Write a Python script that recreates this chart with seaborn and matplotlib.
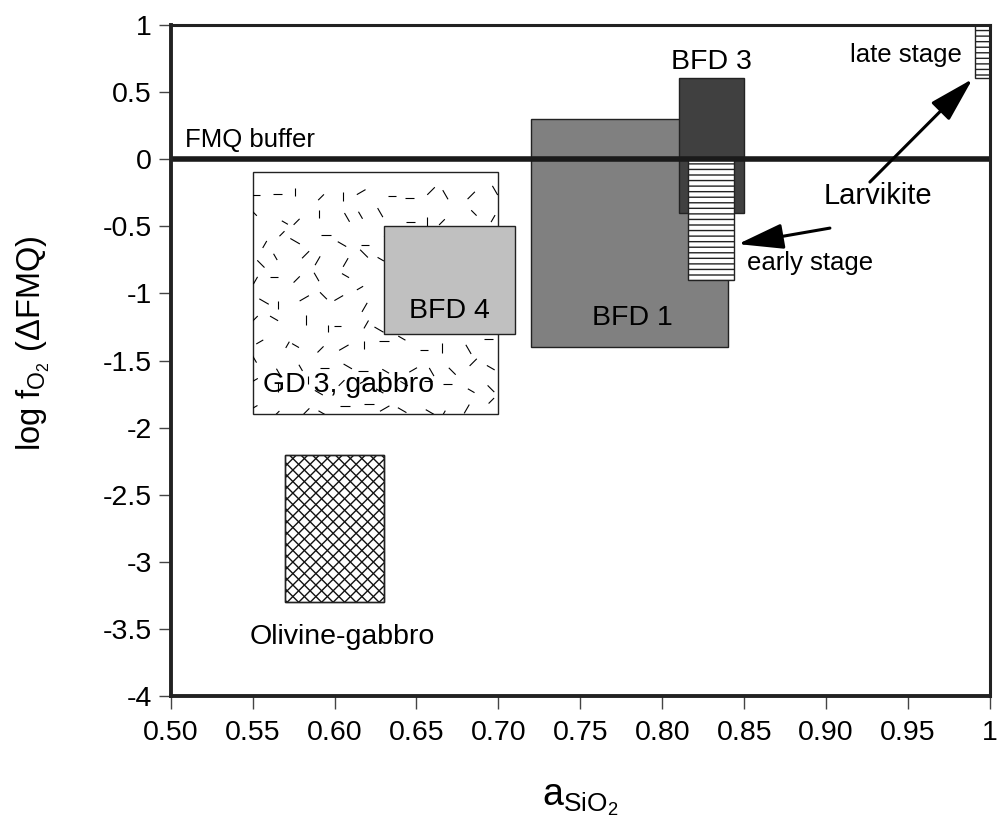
import numpy as np
import pandas as pd
import matplotlib
matplotlib.use("Agg")
import matplotlib.pyplot as plt
from matplotlib.patches import Rectangle
from matplotlib.collections import LineCollection
from matplotlib.transforms import IdentityTransform
import seaborn as sns

# Fields in (aSiO2, log fO2 relative to FMQ) space: x0, x1, y0, y1
field_names = ["GD 3, gabbro", "Olivine-gabbro", "BFD 4", "BFD 1", "BFD 3",
               "Larvikite early stage", "Larvikite late stage"]
x_min = [0.55, 0.57, 0.63, 0.72, 0.81, 0.816, 0.991]
x_max = [0.70, 0.63, 0.71, 0.84, 0.85, 0.844, 1.00]
y_min = [-1.9, -3.3, -1.3, -1.4, -0.4, -0.9, 0.6]
y_max = [-0.1, -2.2, -0.5, 0.3, 0.6, 0.0, 1.0]

x_ticks = [0.50, 0.55, 0.60, 0.65, 0.70, 0.75, 0.80, 0.85, 0.90, 0.95, 1.00]
x_tick_labels = ["0.50", "0.55", "0.60", "0.65", "0.70", "0.75", "0.80",
                 "0.85", "0.90", "0.95", "1"]
y_ticks = [1, 0.5, 0, -0.5, -1, -1.5, -2, -2.5, -3, -3.5, -4]
y_tick_labels = ["1", "0.5", "0", "-0.5", "-1", "-1.5", "-2", "-2.5", "-3",
                 "-3.5", "-4"]

fmq = pd.DataFrame({"aSiO2": [0.50, 1.00], "dFMQ": [0.0, 0.0]})

sns.set_style("ticks")
plt.rcParams["font.family"] = ["Liberation Sans", "DejaVu Sans"]
plt.rcParams["mathtext.fontset"] = "custom"
plt.rcParams["mathtext.rm"] = "Liberation Sans"
plt.rcParams["mathtext.it"] = "Liberation Sans"
plt.rcParams["text.color"] = "black"
plt.rcParams["axes.labelcolor"] = "black"

DPI = 100
fig = plt.figure(figsize=(9.98, 8.25), dpi=DPI)
ax = fig.add_axes([0.171, 0.156, 0.821, 0.814])
ax.set_xlim(0.5, 1.0)
ax.set_ylim(-4, 1)


def rect(i, **kw):
    r = Rectangle((x_min[i], y_min[i]), x_max[i] - x_min[i], y_max[i] - y_min[i],
                  edgecolor="#222222", linewidth=1.0, **kw)
    ax.add_patch(r)
    return r


def corners_px(i):
    (px0, py0) = ax.transData.transform((x_min[i], y_min[i]))
    (px1, py1) = ax.transData.transform((x_max[i], y_max[i]))
    return px0, py0, px1, py1


# GD 3 gabbro: white field with scattered short strokes
gd = rect(0, facecolor="white", zorder=2)
px0, py0, px1, py1 = corners_px(0)
rng = np.random.default_rng(11)
segs = []
step = 21.0
for gx in np.arange(px0 + 7, px1 - 4, step):
    for gy in np.arange(py0 + 7, py1 - 4, step):
        cx = gx + rng.uniform(-7, 7)
        cy = gy + rng.uniform(-7, 7)
        ang = rng.choice([0, 45, 90, 135, 30, 150, 60, 120]) * np.pi / 180
        half = rng.uniform(3.5, 5.5)
        segs.append([(cx - half * np.cos(ang), cy - half * np.sin(ang)),
                     (cx + half * np.cos(ang), cy + half * np.sin(ang))])
lc = LineCollection(segs, colors="black", linewidths=0.8,
                    transform=IdentityTransform(), zorder=2.5)
ax.add_collection(lc)
lc.set_clip_path(gd)

# Olivine-gabbro: diagonal cross-hatch
ol = rect(1, facecolor="white", zorder=2)
px0, py0, px1, py1 = corners_px(1)
w, h = px1 - px0, py1 - py0
d = 11.5
segs = []
for k in np.arange(-h, w + h, d):
    segs.append([(px0 + k, py0), (px0 + k + h, py1)])
    segs.append([(px0 + k, py0), (px0 + k - h, py1)])
lc2 = LineCollection(segs, colors="#111111", linewidths=1.0,
                     transform=IdentityTransform(), zorder=2.5)
ax.add_collection(lc2)
lc2.set_clip_path(ol)
ol_edge = rect(1, facecolor="none", zorder=2.6)

# Grey-shaded BFD fields
rect(3, facecolor="#808080", zorder=3)
rect(2, facecolor="#c0c0c0", zorder=3)
rect(4, facecolor="#404040", zorder=4)

# Larvikite fields: horizontal ruling
plt.rcParams["hatch.linewidth"] = 1.0
plt.rcParams["hatch.color"] = "#222222"
rect(5, facecolor="white", hatch="---", zorder=5)
rect(6, facecolor="white", hatch="---", zorder=5)

# FMQ buffer
sns.lineplot(data=fmq, x="aSiO2", y="dFMQ", color="#1a1a1a", linewidth=4,
             ax=ax, zorder=6)

txt = dict(color="black", zorder=8)
ax.text(0.5085, 0.05, "FMQ buffer", fontsize=18.5, ha="left", va="bottom", **txt)
ax.text(0.830, 0.72, "BFD 3", fontsize=20.5, ha="center", va="center", **txt)
ax.text(0.983, 0.775, "late stage", fontsize=18.5, ha="right", va="center", **txt)
ax.text(0.9316, -0.276, "Larvikite", fontsize=21, ha="center", va="center", **txt)
ax.text(0.852, -0.775, "early stage", fontsize=18.5, ha="left", va="center", **txt)
ax.text(0.670, -1.13, "BFD 4", fontsize=20.5, ha="center", va="center", **txt)
ax.text(0.782, -1.18, "BFD 1", fontsize=20.5, ha="center", va="center", **txt)
ax.text(0.6085, -1.68, "GD 3, gabbro", fontsize=20.5, ha="center", va="center", **txt)
ax.text(0.6045, -3.56, "Olivine-gabbro", fontsize=20.5, ha="center", va="center", **txt)

arrow = dict(arrowstyle="-|>,head_length=1.0,head_width=0.28", color="black",
             lw=2.2, mutation_scale=28, shrinkA=0, shrinkB=0)
ax.annotate("", xy=(0.9893, 0.596), xytext=(0.9267, -0.171),
            arrowprops=arrow, zorder=8)
ax.annotate("", xy=(0.8462, -0.633), xytext=(0.9023, -0.514),
            arrowprops=arrow, zorder=8)

ax.set_xticks(x_ticks)
ax.set_xticklabels(x_tick_labels)
ax.set_yticks(y_ticks)
ax.set_yticklabels(y_tick_labels)
ax.tick_params(axis="both", labelsize=20.5, length=9, width=1.0,
               color="#444444", labelcolor="black", direction="out")
ax.tick_params(axis="x", pad=8)
ax.tick_params(axis="y", pad=4.5)
for side in ["left", "bottom"]:
    ax.spines[side].set_linewidth(2.8)
for side in ["top", "right"]:
    ax.spines[side].set_linewidth(2.2)
for s in ax.spines.values():
    s.set_color("#222222")
    s.set_zorder(10)

ax.set_xlabel(r"$\mathregular{a_{SiO_2}}$", fontsize=27, color="black")
ax.xaxis.set_label_coords(0.5, -0.155, transform=ax.transAxes)
ax.xaxis.label.set_va("center")
ax.set_ylabel(r"log f$\mathregular{_{O_2}}$ ($\Delta$FMQ)", fontsize=23.5, color="black")
ax.yaxis.set_label_coords(-0.168, 0.525, transform=ax.transAxes)
ax.yaxis.label.set_va("center")

fig.savefig("out.png", dpi=DPI)
